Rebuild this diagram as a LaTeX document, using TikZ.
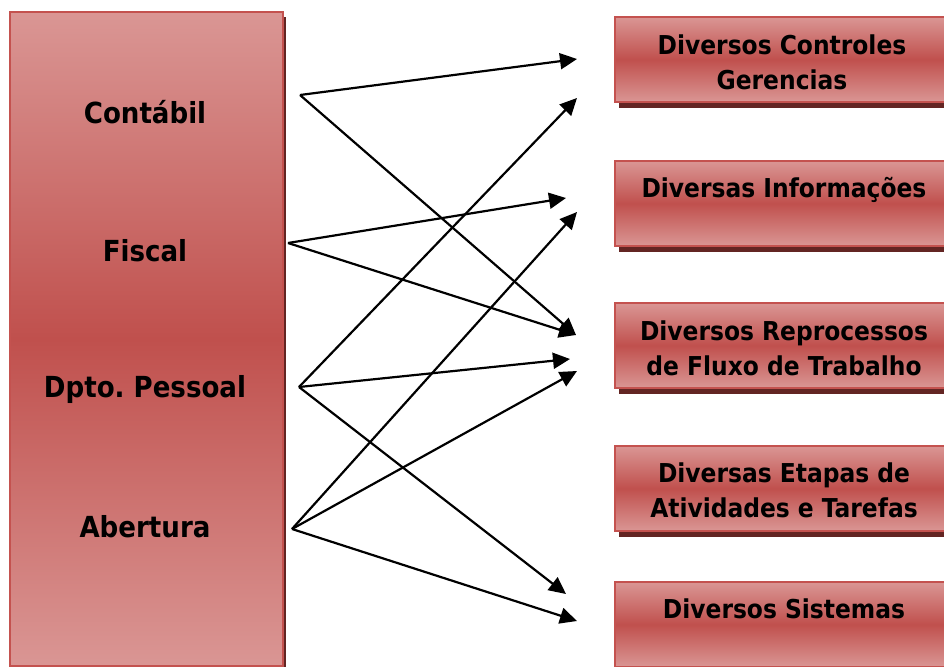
\documentclass[tikz,border=0pt]{standalone}
\usepackage{fontspec}
\setmainfont{DejaVu Sans Condensed}[BoldFont={DejaVu Sans Condensed Bold}]
\usetikzlibrary{arrows.meta,shadows}
\definecolor{lightred}{RGB}{218,150,148}
\definecolor{midred}{RGB}{192,80,77}
\definecolor{edgered}{RGB}{196,82,79}
\definecolor{shadowred}{RGB}{99,37,35}
\tikzset{
  leftbox/.style={draw=edgered, line width=2pt, inner sep=0pt, anchor=north west,
    top color=lightred, bottom color=lightred, middle color=midred,
    drop shadow={shadow xshift=3pt, shadow yshift=-5pt, fill=shadowred, opacity=1}},
  rightbox/.style={draw=edgered, line width=2pt, inner sep=0pt, anchor=north west,
    minimum width=340pt, minimum height=85pt,
    top color=lightred, bottom color=lightred, middle color=midred,
    drop shadow={shadow xshift=4pt, shadow yshift=-6pt, fill=shadowred, opacity=1}},
  lefttext/.style={font=\fontsize{29}{34}\selectfont\bfseries, text=black},
  righttext/.style={font=\fontsize{26}{35}\selectfont\bfseries, text=black, align=center},
  link/.style={line width=2.2pt, draw=black, -{Triangle[length=17pt,width=16pt]}},
}
\begin{document}
\begin{tikzpicture}[x=1pt,y=-1pt]
\clip (0,0) rectangle (944,666);
\fill[white] (0,0) rectangle (944,666);

% left box
\node[leftbox, minimum width=273pt, minimum height=653pt] (L) at (8.5,11.5) {};
\node[lefttext] (contabil) at (145,112) {Contábil};
\node[lefttext] (fiscal) at (145,251) {Fiscal};
\node[lefttext] (dpto) at (145,389) {Dpto.\ Pessoal};
\node[lefttext] (abertura) at (145,527) {Abertura};

% right boxes
\node[rightbox] (R1) at (614,16) {};
\node[rightbox] (R2) at (614,160) {};
\node[rightbox] (R3) at (614,302) {};
\node[rightbox] (R4) at (614,445) {};
\node[rightbox] (R5) at (614,581) {};
\node[righttext] (t1) at (782,62) {Diversos Controles\\Gerencias};
\node[righttext] (t2) at (784,190) {Diversas Informações};
\node[righttext] (t3) at (784,348) {Diversos Reprocessos\\de Fluxo de Trabalho};
\node[righttext] (t4) at (784,490) {Diversas Etapas de\\Atividades e Tarefas};
\node[righttext] (t5) at (784,609) {Diversos Sistemas};

% start points
\coordinate (sC) at (300,95);
\coordinate (sF) at (288,243);
\coordinate (sD) at (299,387);
\coordinate (sA) at (292,529);
% end points
\coordinate (e1a) at (577,59);
\coordinate (e1b) at (577,98);
\coordinate (e2a) at (566,198);
\coordinate (e2b) at (577,212);
\coordinate (e3a) at (576,335);
\coordinate (e3b) at (570,359);
\coordinate (e3c) at (577,371);
\coordinate (e5a) at (566,594);
\coordinate (e5b) at (577,621);

\draw[link] (sC) -- (e1a);
\draw[link] (sC) -- (e3a);
\draw[link] (sF) -- (e2a);
\draw[link] (sF) -- (e3a);
\draw[link] (sD) -- (e1b);
\draw[link] (sD) -- (e3b);
\draw[link] (sD) -- (e5a);
\draw[link] (sA) -- (e2b);
\draw[link] (sA) -- (e3c);
\draw[link] (sA) -- (e5b);
\end{tikzpicture}
\end{document}
